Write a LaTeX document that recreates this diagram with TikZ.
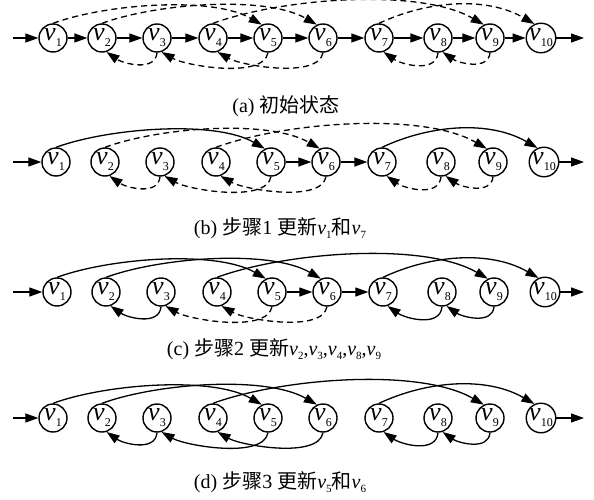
\documentclass[tikz,border=0pt]{standalone}
\usepackage{fontspec}
\setmainfont{Liberation Serif}
\newfontfamily\cjk{Noto Sans CJK SC}
\usetikzlibrary{arrows.meta}
\newcommand\vlab[1]{\textit{v}\raisebox{-0.5ex}{\fontsize{12}{12}\selectfont #1}}
\newcommand\vcap[1]{\textit{v}\raisebox{-0.45ex}{\fontsize{11}{11}\selectfont #1}}

\begin{document}
\begin{tikzpicture}[x=1pt,y=1pt,
	>={Triangle[length=13pt,width=9pt]},
	vtx/.style={circle,draw,line width=1.4pt,minimum size=28pt,inner sep=0pt,font=\fontsize{26}{26}\selectfont},
	arr/.style={->,line width=1.3pt},
	darr/.style={->,line width=1.3pt,dash pattern=on 6pt off 4pt},
	upper/.style={out=20,in=150,looseness=0.7},
	uppershort/.style={out=25,in=150,looseness=0.9},
	lower/.style={out=-95,in=-35},
	lowerlong/.style={out=-100,in=-30,looseness=0.65},
	captext/.style={font=\fontsize{20}{22}\selectfont}]

	\useasboundingbox (0,0) rectangle (594,499);

	% rows of nodes
	\foreach \r/\Y/\dx in {a/461/0,b/337/3,c/207/4,d/81/0} {
		\foreach \i/\X in {1/53,2/102,3/157,4/213,5/268,6/323,7/379,8/438,9/490,10/541}
			\node[vtx] (\r\i) at (\X+\dx,\Y) {\vlab{\i}};
		\coordinate (in\r) at (13,\Y);
		\coordinate (out\r) at (584,\Y);
	}

	% (a)
	\draw[arr] (ina) -- (a1);
	\foreach \i [evaluate=\i as \j using int(\i+1)] in {1,...,9}
		\draw[arr] (a\i) -- (a\j);
	\draw[arr] (a10) -- (outa);
	\draw[darr] (a1.north) to[upper] (a5.115);
	\draw[darr] (a2.north) to[upper] (a6.115);
	\draw[darr] (a4.north) to[upper] (a9.115);
	\draw[darr] (a7.north) to[uppershort] (a10.115);
	\draw[darr] (a3.south) to[lower] (a2.-72);
	\draw[darr] (a5.south) to[lowerlong] (a3.-72);
	\draw[darr] (a6.south) to[lowerlong] (a4.-72);
	\draw[darr] (a8.south) to[lower] (a7.-72);
	\draw[darr] (a9.south) to[lower] (a8.-72);
	\node[captext] (capa) at (286,393) {(a) {\cjk 初始状态}};

	% (b)
	\draw[arr] (inb) -- (b1);
	\draw[arr] (b5) -- (b6);
	\draw[arr] (b6) -- (b7);
	\draw[arr] (b10) -- (outb);
	\draw[arr] (b1.north) to[upper] (b5.115);
	\draw[darr] (b2.north) to[upper] (b6.115);
	\draw[darr] (b4.north) to[upper] (b9.115);
	\draw[arr] (b7.north) to[uppershort] (b10.115);
	\draw[darr] (b3.south) to[lower] (b2.-72);
	\draw[darr] (b5.south) to[lowerlong] (b3.-72);
	\draw[darr] (b6.south) to[lowerlong] (b4.-72);
	\draw[darr] (b8.south) to[lower] (b7.-72);
	\draw[darr] (b9.south) to[lower] (b8.-72);
	\node[captext] (capb) at (280,271) {(b) {\cjk 步骤}1 {\cjk 更新}\vcap{1}{\cjk 和}\vcap{7}};

	% (c)
	\draw[arr] (inc) -- (c1);
	\draw[arr] (c5) -- (c6);
	\draw[arr] (c6) -- (c7);
	\draw[arr] (c10) -- (outc);
	\draw[arr] (c1.north) to[upper] (c5.115);
	\draw[arr] (c2.north) to[upper] (c6.115);
	\draw[arr] (c4.north) to[upper] (c9.115);
	\draw[arr] (c7.north) to[uppershort] (c10.115);
	\draw[arr] (c3.south) to[lower] (c2.-72);
	\draw[darr] (c5.south) to[lowerlong] (c3.-72);
	\draw[darr] (c6.south) to[lowerlong] (c4.-72);
	\draw[arr] (c8.south) to[lower] (c7.-72);
	\draw[arr] (c9.south) to[lower] (c8.-72);
	\node[captext] (capc) at (274,150) {(c) {\cjk 步骤}2 {\cjk 更新}\vcap{2},\vcap{3},\vcap{4},\vcap{8},\vcap{9}};

	% (d)
	\draw[arr] (ind) -- (d1);
	\draw[arr] (d10) -- (outd);
	\draw[arr] (d1.north) to[upper] (d5.115);
	\draw[arr] (d2.north) to[upper] (d6.115);
	\draw[arr] (d4.north) to[upper] (d9.115);
	\draw[arr] (d7.north) to[uppershort] (d10.115);
	\draw[arr] (d3.south) to[lower] (d2.-72);
	\draw[arr] (d5.south) to[lowerlong] (d3.-72);
	\draw[arr] (d6.south) to[lowerlong] (d4.-72);
	\draw[arr] (d8.south) to[lower] (d7.-72);
	\draw[arr] (d9.south) to[lower] (d8.-72);
	\node[captext] (capd) at (280,17) {(d) {\cjk 步骤}3 {\cjk 更新}\vcap{5}{\cjk 和}\vcap{6}};

\end{tikzpicture}
\end{document}
